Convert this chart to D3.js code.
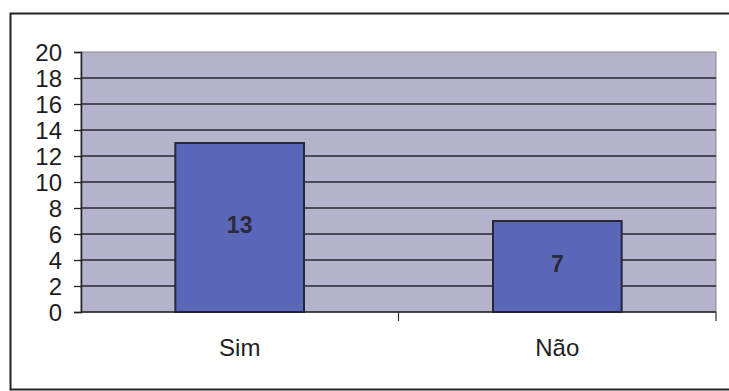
<!DOCTYPE html>
<html>
<head>
<meta charset="utf-8">
<script src="https://cdn.jsdelivr.net/npm/d3@7"></script>
<style>
  html, body { margin: 0; padding: 0; background: #fff; }
  svg { display: block; }
  text { font-family: "Liberation Sans", Arial, sans-serif; }
</style>
</head>
<body>
<svg id="chart" width="729" height="391"></svg>
<script>
// Respostas: Sim / Não
const categories = ["Sim", "Não"];
const values = [13, 7];
const yTicks = [0, 2, 4, 6, 8, 10, 12, 14, 16, 18, 20];

const svg = d3.select("#chart");
const W = 729, H = 391;
const plot = { left: 81, top: 52, right: 716, bottom: 312 };

// Outer frame of the chart object
svg.append("rect")
  .attr("x", 10.5).attr("y", 13.5)
  .attr("width", W + 10).attr("height", 376)
  .attr("fill", "#fff")
  .attr("stroke", "#222").attr("stroke-width", 2);

const x = d3.scaleBand()
  .domain(categories)
  .range([plot.left, plot.right])
  .paddingInner(0.595)
  .paddingOuter(0.297);

const xOuter = d3.scaleBand()
  .domain(categories)
  .range([plot.left, plot.right]);

const y = d3.scaleLinear()
  .domain([0, 20])
  .range([plot.bottom, plot.top]);

// Plot area background
svg.append("rect")
  .attr("x", plot.left).attr("y", plot.top)
  .attr("width", plot.right - plot.left)
  .attr("height", plot.bottom - plot.top)
  .attr("fill", "#b5b3cb")
  .attr("stroke", "#8a8899").attr("stroke-width", 1);

// Horizontal gridlines
svg.append("g")
  .selectAll("line")
  .data(yTicks.filter(d => d > 0 && d < 20))
  .join("line")
  .attr("x1", plot.left).attr("x2", plot.right)
  .attr("y1", d => y(d)).attr("y2", d => y(d))
  .attr("stroke", "#2b2730").attr("stroke-width", 1.3);

// Bars
svg.append("g")
  .selectAll("rect")
  .data(values)
  .join("rect")
  .attr("x", (d, i) => x(categories[i]))
  .attr("y", d => y(d))
  .attr("width", x.bandwidth())
  .attr("height", d => y(0) - y(d))
  .attr("fill", "#5a67b8")
  .attr("stroke", "#26273a").attr("stroke-width", 2);

// Value labels inside the bars
svg.append("g")
  .selectAll("text")
  .data(values)
  .join("text")
  .attr("x", (d, i) => x(categories[i]) + x.bandwidth() / 2)
  .attr("y", d => (y(d) + y(0)) / 2 + 5)
  .attr("text-anchor", "middle")
  .attr("font-size", 23)
  .attr("font-weight", "bold")
  .attr("fill", "#2a2a3a")
  .text(d => d);

// Y axis
const yAxis = svg.append("g")
  .attr("transform", `translate(${plot.left},0)`)
  .call(d3.axisLeft(y).tickValues(yTicks).tickSize(7).tickPadding(12).tickFormat(d3.format("d")));
yAxis.select(".domain").attr("stroke", "#222").attr("stroke-width", 1.5);
yAxis.selectAll(".tick line").attr("stroke", "#222").attr("stroke-width", 1.3);
yAxis.selectAll(".tick text")
  .attr("font-size", 24)
  .attr("font-family", "Liberation Sans, Arial, sans-serif")
  .attr("fill", "#1e1e1e")
  .attr("dy", "0.34em");

// X axis with ticks between categories
const xAxis = svg.append("g")
  .attr("transform", `translate(0,${plot.bottom})`);
xAxis.append("line")
  .attr("x1", plot.left).attr("x2", plot.right)
  .attr("stroke", "#222").attr("stroke-width", 1.6);
const boundaries = categories.map(c => xOuter(c)).concat([plot.right]);
xAxis.selectAll("line.sep")
  .data(boundaries.slice(1))
  .join("line")
  .attr("class", "sep")
  .attr("x1", d => d).attr("x2", d => d)
  .attr("y1", 0).attr("y2", 9)
  .attr("stroke", "#333").attr("stroke-width", 1.2);
xAxis.selectAll("text")
  .data(categories)
  .join("text")
  .attr("x", d => xOuter(d) + xOuter.bandwidth() / 2)
  .attr("y", 44)
  .attr("text-anchor", "middle")
  .attr("font-size", 24)
  .attr("fill", "#1e1e1e")
  .text(d => d);
</script>
</body>
</html>
